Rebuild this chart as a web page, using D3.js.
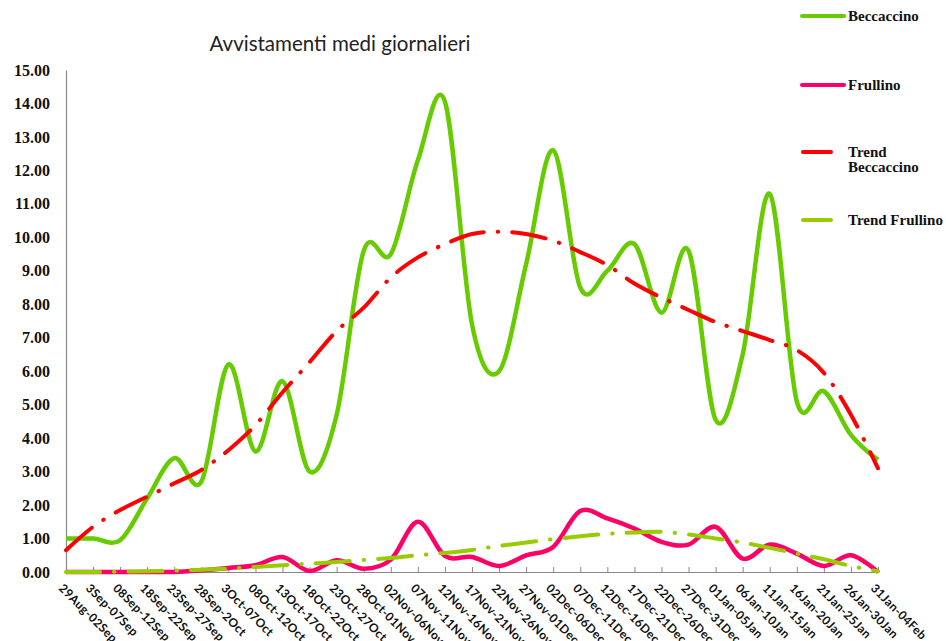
<!DOCTYPE html>
<html><head><meta charset="utf-8">
<script src="https://cdn.jsdelivr.net/npm/d3@7"></script>
<style>body{margin:0;background:#fff}svg{display:block}</style>
</head><body>
<script>
const categories = ["29Aug-02Sep","3Sep-07Sep","08Sep-12Sep","18Sep-22Sep","23Sep-27Sep","28Sep-2Oct","3Oct-07Oct","08Oct-12Oct","13Oct-17Oct","18Oct-22Oct","23Oct-27Oct","28Oct-01Nov","02Nov-06Nov","07Nov-11Nov","12Nov-16Nov","17Nov-21Nov","22Nov-26Nov","27Nov-01Dec","02Dec-06Dec","07Dec-11Dec","12Dec-16Dec","17Dec-21Dec","22Dec-26Dec","27Dec-31Dec","01Jan-05Jan","06Jan-10Jan","11Jan-15Jan","16Jan-20Jan","21Jan-25Jan","26Jan-30Jan","31Jan-04Feb"];
const beccaccino = [1.0,1.0,0.95,2.2,3.4,2.7,6.2,3.6,5.7,3.0,4.7,9.6,9.5,12.3,14.05,7.4,6.0,9.2,12.6,8.5,9.0,9.8,7.75,9.6,4.55,6.5,11.3,5.1,5.4,4.1,3.35];
const frullino = [0,0,0,0,0,0.05,0.12,0.2,0.45,0.03,0.35,0.1,0.37,1.5,0.48,0.45,0.18,0.5,0.75,1.82,1.6,1.3,0.9,0.82,1.35,0.4,0.82,0.55,0.18,0.5,0.0];
const trendBeccaccino = [0.65,1.35,1.85,2.25,2.65,3.05,3.64,4.39,5.37,6.27,7.2,7.9,8.8,9.4,9.8,10.1,10.17,10.1,9.9,9.56,9.17,8.62,8.2,7.83,7.47,7.2,6.93,6.63,5.95,4.7,3.1];
const trendFrullino = [0,0,0.01,0.02,0.04,0.07,0.1,0.15,0.2,0.25,0.3,0.36,0.42,0.5,0.57,0.66,0.78,0.88,0.98,1.07,1.14,1.18,1.2,1.12,1.0,0.88,0.72,0.55,0.38,0.18,0.02];
const yTicks = [0,1,2,3,4,5,6,7,8,9,10,11,12,13,14,15];
const title = "Avvistamenti medi giornalieri";
const legendItems = [
  {name:["Beccaccino"], color:"#66cc00", long:true},
  {name:["Frullino"], color:"#ff0066", long:true},
  {name:["Trend","Beccaccino"], color:"#ff0000", long:false},
  {name:["Trend Frullino"], color:"#99cc00", long:false}
];

const W=946,H=641;
const svg=d3.select("body").append("svg").attr("width",W).attr("height",H);
const x=d3.scalePoint().domain(categories).range([66,878]);
const y=d3.scaleLinear().domain([0,15]).range([572,70]);

// title
svg.append("text").attr("x",340).attr("y",51).attr("text-anchor","middle")
  .style("font-family","Lato, 'Open Sans', sans-serif").style("font-size","20.5px").attr("fill","#222").text(title);

// y axis
const ya=svg.append("g").attr("transform","translate(66,0)").call(d3.axisLeft(y).tickValues(yTicks).tickSize(0).tickPadding(16).tickFormat(d3.format(".2f")));
ya.select(".domain").attr("stroke","#888").attr("stroke-width",1.2);
ya.selectAll("text").style("font-family","'Liberation Serif', serif").style("font-weight","bold").style("font-size","16px").attr("fill","#111");

// x axis
const xa=svg.append("g").attr("transform","translate(0,572)").call(d3.axisBottom(x).tickSizeInner(-5).tickSizeOuter(0).tickFormat(""));
xa.select(".domain").attr("stroke","#888").attr("stroke-width",1.2);
xa.selectAll(".tick line").attr("stroke","#888");
svg.append("g").selectAll("text").data(categories).join("text")
  .attr("transform",d=>`translate(${x(d)-2},${583}) rotate(45)`)
  .attr("dy","0.7em")
  .style("font-family","Lato, sans-serif").style("font-weight","bold").style("font-size","12px")
  .style("letter-spacing","0.3px").attr("fill","#111")
  .text(d=>d);

const line=d3.line().x((d,i)=>x(categories[i])).y(d=>y(d)).curve(d3.curveCardinal.tension(0));

svg.append("path").datum(beccaccino).attr("d",line).attr("fill","none").attr("stroke","#66cc00").attr("stroke-width",4.5);
svg.append("path").datum(frullino).attr("d",line).attr("fill","none").attr("stroke","#ff0066").attr("stroke-width",4.5);
svg.append("path").datum(trendBeccaccino).attr("d",line).attr("fill","none").attr("stroke","#ff0000").attr("stroke-width",4)
  .attr("stroke-linecap","round").attr("stroke-dasharray","34,14,0.5,14");
svg.append("path").datum(trendFrullino).attr("d",line).attr("fill","none").attr("stroke","#99cc00").attr("stroke-width",4)
  .attr("stroke-linecap","round").attr("stroke-dasharray","34,14,0.5,14");

// legend
const legY=[16,85,152,220];
const lg=svg.append("g");
legendItems.forEach((it,i)=>{
  const yy=legY[i];
  lg.append("line").attr("x1",it.long?802:803).attr("x2",it.long?844:831).attr("y1",yy).attr("y2",yy)
    .attr("stroke",it.color).attr("stroke-width",4).attr("stroke-linecap","round");
  const t=lg.append("text").attr("x",848).attr("y",yy+5)
    .style("font-family","'Liberation Serif', serif").style("font-weight","bold").style("font-size","15px").attr("fill","#111");
  it.name.forEach((n,j)=>t.append("tspan").attr("x",848).attr("dy",j?15:0).text(n));
});
</script>
</body></html>
